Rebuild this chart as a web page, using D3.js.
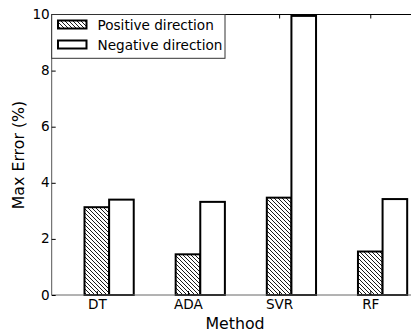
<!DOCTYPE html>
<html>
<head>
<meta charset="utf-8">
<script src="https://cdn.jsdelivr.net/npm/d3@7"></script>
<style>
  html, body { margin: 0; padding: 0; background: #fff; }
  svg { display: block; font-family: "DejaVu Sans", sans-serif; }
</style>
</head>
<body>
<svg id="chart" width="411" height="336"></svg>
<script>
const categories = ["DT", "ADA", "SVR", "RF"];
const positiveValues = [3.13, 1.45, 3.47, 1.55];
const negativeValues = [3.40, 3.32, 9.95, 3.42];
const seriesNames = ["Positive direction", "Negative direction"];
const yTicks = [0, 2, 4, 6, 8, 10];

(function () {
const svg = d3.select("#chart");
const W = 411, H = 336;
const mLeft = 51.7, mTop = 14.5, mBottom = 295;
const barW = 0.27;

const x = d3.scaleLinear().domain([-0.36, 3.9]).range([mLeft, 440]);
const y = d3.scaleLinear().domain([0, 10]).range([mBottom, mTop]);

const defs = svg.append("defs");
const pat = defs.append("pattern")
  .attr("id", "hatch").attr("patternUnits", "userSpaceOnUse")
  .attr("width", 4).attr("height", 4);
pat.append("rect").attr("width", 4).attr("height", 4).attr("fill", "#fff");
pat.append("path").attr("d", "M-1,-1 L5,5 M-5,-1 L1,5 M3,-1 L9,5")
  .attr("stroke", "#000").attr("stroke-width", 0.9);

// Bars
const g = svg.append("g");
g.selectAll("rect.pos").data(positiveValues).join("rect")
  .attr("class", "pos")
  .attr("x", (d, i) => x(i))
  .attr("width", (d, i) => x(i + barW) - x(i))
  .attr("y", d => y(d))
  .attr("height", d => y(0) - y(d))
  .attr("fill", "url(#hatch)").attr("stroke", "#000").attr("stroke-width", 2);
g.selectAll("rect.neg").data(negativeValues).join("rect")
  .attr("class", "neg")
  .attr("x", (d, i) => x(i + barW))
  .attr("width", (d, i) => x(i + 2 * barW) - x(i + barW))
  .attr("y", d => y(d))
  .attr("height", d => y(0) - y(d))
  .attr("fill", "#fff").attr("stroke", "#000").attr("stroke-width", 2);

// Frame
svg.append("line").attr("x1", mLeft).attr("x2", W).attr("y1", mTop).attr("y2", mTop)
  .attr("stroke", "#000").attr("stroke-width", 1);
svg.append("line").attr("x1", mLeft).attr("x2", W).attr("y1", mBottom).attr("y2", mBottom)
  .attr("stroke", "#666").attr("stroke-width", 1);
svg.append("line").attr("x1", mLeft).attr("x2", mLeft).attr("y1", mTop).attr("y2", mBottom)
  .attr("stroke", "#555").attr("stroke-width", 1);

// Y axis (inward ticks)
const yAxis = d3.axisLeft(y).tickValues(yTicks).tickSize(-4).tickPadding(2).tickFormat(d3.format("d"));
const yg = svg.append("g").attr("transform", `translate(${mLeft},0)`).call(yAxis);
yg.select(".domain").remove();
yg.selectAll("line").attr("stroke", "#000");
yg.selectAll("text").attr("font-size", 13.6).attr("fill", "#000")
  .attr("font-family", "DejaVu Sans").attr("dy", "0.3em");

// X axis (ticks at positive bar centers, inward, top and bottom)
const tickPos = categories.map((c, i) => i + barW / 2);
const xAxis = d3.axisBottom(x).tickValues(tickPos).tickSize(-4).tickPadding(4)
  .tickFormat((d, i) => categories[i]);
const xg = svg.append("g").attr("transform", `translate(0,${mBottom})`).call(xAxis);
xg.select(".domain").remove();
xg.selectAll("line").attr("stroke", "#000");
xg.selectAll("text").attr("font-size", 13.6).attr("fill", "#000").attr("font-family", "DejaVu Sans");
const xTop = d3.axisTop(x).tickValues(tickPos).tickSize(-4).tickFormat("");
const xtg = svg.append("g").attr("transform", `translate(0,${mTop})`).call(xTop);
xtg.select(".domain").remove();
xtg.selectAll("line").attr("stroke", "#000");

// Axis labels
svg.append("text").attr("x", 235).attr("y", 329).attr("text-anchor", "middle")
  .attr("font-size", 15.8).text("Method");
svg.append("text").attr("transform", `translate(24,155) rotate(-90)`)
  .attr("text-anchor", "middle").attr("font-size", 15.8).text("Max Error (%)");

// Legend
const lg = svg.append("g");
lg.append("rect").attr("x", mLeft).attr("y", mTop).attr("width", 225 - mLeft).attr("height", 58.3 - mTop)
  .attr("fill", "#fff").attr("stroke", "#333").attr("stroke-width", 1);
const fills = ["url(#hatch)", "#fff"];
seriesNames.forEach((name, i) => {
  const cy = 24.5 + i * 20;
  lg.append("rect").attr("x", 58).attr("y", cy - 4).attr("width", 28.5).attr("height", 8)
    .attr("fill", fills[i]).attr("stroke", "#000").attr("stroke-width", 2);
  lg.append("text").attr("x", 97.5).attr("y", cy + 5.3).attr("font-size", 13.6).text(name);
});
})();
</script>
</body>
</html>
